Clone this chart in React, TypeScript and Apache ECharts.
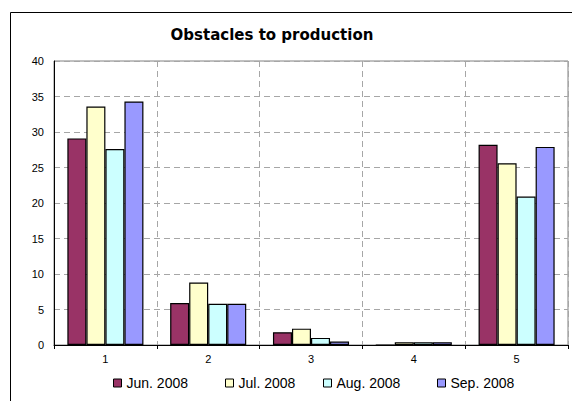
import React, { useEffect, useRef } from "react";
import * as echarts from "echarts";

const categories = ["1", "2", "3", "4", "5"];
const seriesNames = ["Jun. 2008", "Jul. 2008", "Aug. 2008", "Sep. 2008"];
const jun2008 = [29.1, 5.9, 1.8, 0, 28.2];
const jul2008 = [33.6, 8.8, 2.3, 0.4, 25.6];
const aug2008 = [27.6, 5.8, 1.0, 0.4, 20.9];
const sep2008 = [34.3, 5.8, 0.5, 0.4, 27.9];
const colors = ["#993366", "#FFFFCC", "#CCFFFF", "#9999FF"];
const legendLefts = [108, 220, 318, 432];

export default function App() {
  const ref = useRef<HTMLDivElement>(null);
  useEffect(() => {
    if (!ref.current) return;
    const chart = echarts.init(ref.current, undefined, { renderer: "svg" });
    const values = [jun2008, jul2008, aug2008, sep2008];
    const font = "'Liberation Sans', Arial, sans-serif";
    chart.setOption({
      animation: false,
      backgroundColor: "#ffffff",
      textStyle: { fontFamily: font },
      title: {
        text: "Obstacles to production",
        left: 267,
        textAlign: "center",
        top: 22,
        textStyle: {
          fontFamily: "'DejaVu Sans', sans-serif",
          fontSize: 15,
          fontWeight: "bold",
          color: "#000",
        },
      },
      graphic: [
        {
          type: "rect",
          shape: { x: 10.5, y: 12.5, width: 620, height: 420 },
          style: { fill: "none", stroke: "#000", lineWidth: 1 },
          silent: true,
          z: -1,
        },
      ],
      legend: seriesNames.map((n, i) => ({
        data: [n],
        left: legendLefts[i],
        top: 371,
        icon: "rect",
        itemWidth: 8,
        itemHeight: 8,
        itemGap: 0,
        itemStyle: { borderColor: "#000", borderWidth: 1 },
        textStyle: { fontFamily: font, fontSize: 14, color: "#000" },
        selectedMode: false,
      })),
      grid: {
        left: 54,
        right: 4,
        top: 61,
        bottom: 56,
        show: true,
        borderColor: "#808080",
        borderWidth: 1,
        containLabel: false,
      },
      xAxis: {
        type: "category",
        data: categories,
        axisLine: { lineStyle: { color: "#000", width: 1 } },
        axisTick: { show: true, length: 4, lineStyle: { color: "#000" } },
        axisLabel: { color: "#000", fontSize: 11, margin: 8 },
        splitLine: { show: true, lineStyle: { color: "#a6a6a6", type: [6, 4] } },
      },
      yAxis: {
        type: "value",
        min: 0,
        max: 40,
        interval: 5,
        axisLine: { show: true, lineStyle: { color: "#000", width: 1 } },
        axisTick: { show: false },
        axisLabel: { color: "#000", fontSize: 11, margin: 10 },
        splitLine: { show: true, lineStyle: { color: "#a6a6a6", type: [6, 4] } },
      },
      series: seriesNames.map((n, i) => ({
        name: n,
        type: "bar",
        data: values[i],
        barGap: "0%",
        barCategoryGap: "26%",
        itemStyle: { color: colors[i], borderColor: "#000", borderWidth: 1.2 },
      })),
    });
    return () => chart.dispose();
  }, []);
  return (
    <div
      ref={ref}
      style={{ position: "absolute", left: 0, top: 0, width: 572, height: 401 }}
    />
  );
}
